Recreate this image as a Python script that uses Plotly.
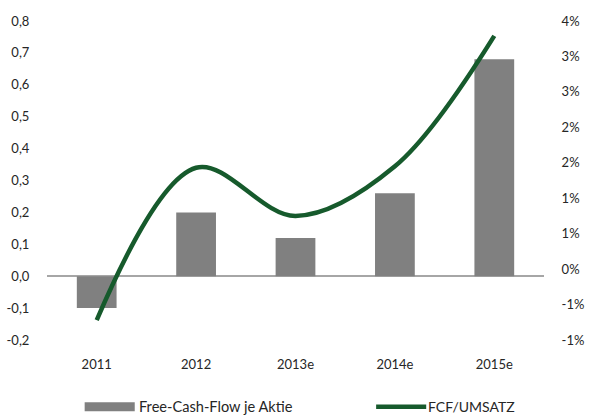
import plotly.graph_objects as go

categories = ["2011", "2012", "2013e", "2014e", "2015e"]
fcf_per_share = [-0.10, 0.20, 0.12, 0.26, 0.68]
fcf_umsatz_pct = [-0.72, 1.43, 0.75, 1.45, 3.29]

left_tickvals = [-0.2, -0.1, 0.0, 0.1, 0.2, 0.3, 0.4, 0.5, 0.6, 0.7, 0.8]
left_ticktext = ["-0,2", "-0,1", "0,0", "0,1", "0,2", "0,3", "0,4", "0,5", "0,6", "0,7", "0,8"]
right_tickvals = [-1.0, -0.5, 0.0, 0.5, 1.0, 1.5, 2.0, 2.5, 3.0, 3.5]
right_ticktext = ["-1%", "-1%", "0%", "1%", "1%", "2%", "2%", "3%", "3%", "4%"]

legend_labels = ["Free-Cash-Flow je Aktie", "FCF/UMSATZ"]

BAR_COLOR = "#808080"
LINE_COLOR = "#165a2c"
TEXT_COLOR = "#262626"
FONT = "Lato, Carlito, Calibri, sans-serif"

fig = go.Figure()
fig.add_trace(go.Bar(
    x=categories, y=fcf_per_share, name=legend_labels[0],
    marker=dict(color=BAR_COLOR, line=dict(width=0)),
    width=0.4, yaxis="y", showlegend=False,
))
fig.add_trace(go.Scatter(
    x=categories, y=fcf_umsatz_pct, name=legend_labels[1],
    mode="lines", line=dict(color=LINE_COLOR, width=4.5, shape="spline", smoothing=1.0),
    yaxis="y2", showlegend=False,
))

W, H = 590, 416
ml, mr, mt, mb = 47.4, 46.4, 20.5, 75.5
PW, PH = W - ml - mr, H - mt - mb

fig.update_layout(
    width=W, height=H,
    margin=dict(l=ml, r=mr, t=mt, b=mb, pad=0, autoexpand=False),
    paper_bgcolor="white", plot_bgcolor="white",
    font=dict(family=FONT, size=13, color=TEXT_COLOR),
    bargap=0.6,
    xaxis=dict(
        type="category", range=[-0.5, 4.5], automargin=False,
        showgrid=False, showline=False, zeroline=False,
        ticks="outside", ticklen=12, tickcolor="rgba(0,0,0,0)",
        tickfont=dict(size=13),
    ),
    yaxis=dict(
        range=[-0.2, 0.8], tickvals=left_tickvals, ticktext=left_ticktext,
        automargin=False,
        showgrid=False, showline=False,
        zeroline=True, zerolinecolor="#A6A6A6", zerolinewidth=1.5,
        ticks="outside", ticklen=14, tickcolor="rgba(0,0,0,0)",
        tickfont=dict(size=13),
    ),
    yaxis2=dict(
        range=[-1.0, 3.5], tickvals=right_tickvals, ticktext=right_ticktext,
        overlaying="y", side="right", automargin=False,
        showgrid=False, showline=False, zeroline=False,
        ticks="outside", ticklen=14, tickcolor="rgba(0,0,0,0)",
        tickfont=dict(size=13),
    ),
)

# manual legend at the bottom (paper coords are relative to plot area)
def px(x):
    return (x - ml) / PW

def py(y):
    return (H - mb - y) / PH

fig.add_shape(type="rect", xref="paper", yref="paper",
              x0=px(85), x1=px(135), y0=py(412), y1=py(403),
              fillcolor=BAR_COLOR, line=dict(width=0))
fig.add_annotation(xref="paper", yref="paper", x=px(137), y=py(407),
                   text=legend_labels[0], showarrow=False,
                   xanchor="left", yanchor="middle", font=dict(size=14.6))
fig.add_shape(type="line", xref="paper", yref="paper",
              x0=px(376), x1=px(426), y0=py(407.5), y1=py(407.5),
              line=dict(color=LINE_COLOR, width=4.5))
fig.add_annotation(xref="paper", yref="paper", x=px(426), y=py(407),
                   text=legend_labels[1], showarrow=False,
                   xanchor="left", yanchor="middle", font=dict(size=14))

fig.write_html(
    "out.html",
    config={"displayModeBar": False},
    post_script="document.body.style.margin='0';document.body.style.overflow='hidden';",
)
